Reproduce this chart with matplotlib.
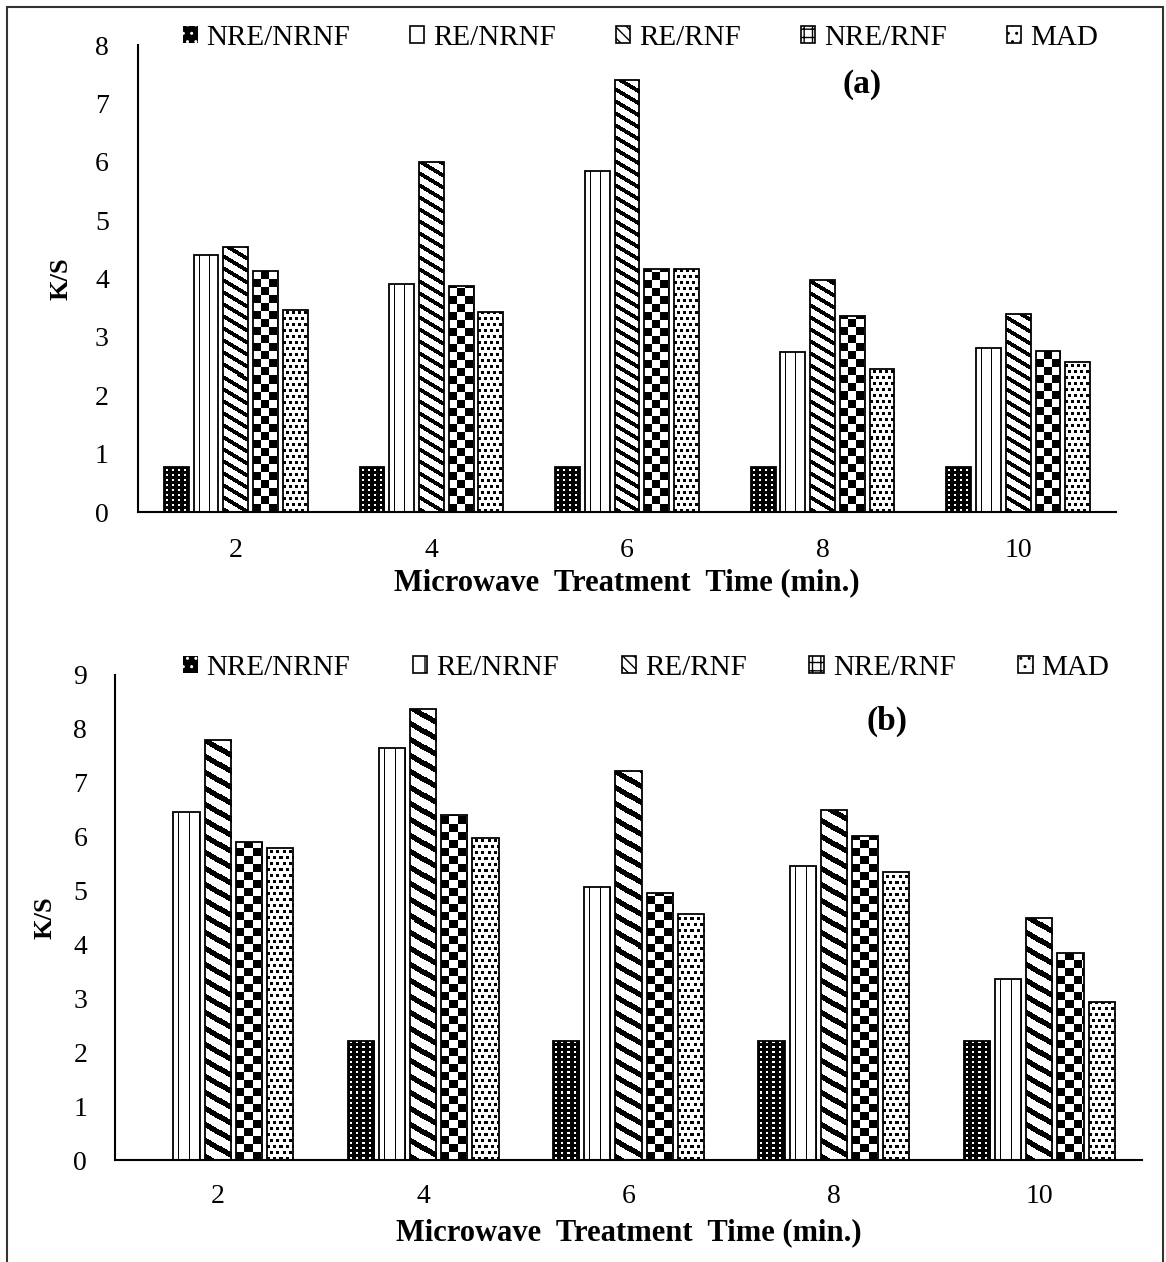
import numpy as np
import matplotlib
matplotlib.use('Agg')
import matplotlib.pyplot as plt
from matplotlib.patches import Patch, Rectangle

# ---------------- data ----------------
times = ['2', '4', '6', '8', '10']
series = ['NRE/NRNF', 'RE/NRNF', 'RE/RNF', 'NRE/RNF', 'MAD']

a_nre_nrnf = [0.77, 0.77, 0.77, 0.77, 0.77]
a_re_nrnf = [4.40, 3.90, 5.84, 2.74, 2.81]
a_re_rnf = [4.54, 5.99, 7.40, 3.97, 3.39]
a_nre_rnf = [4.13, 3.87, 4.16, 3.36, 2.76]
a_mad = [3.46, 3.42, 4.16, 2.45, 2.57]

b_nre_nrnf = [0.0, 2.21, 2.21, 2.21, 2.21]
b_re_nrnf = [6.46, 7.64, 5.06, 5.45, 3.36]
b_re_rnf = [7.79, 8.37, 7.22, 6.49, 4.49]
b_nre_rnf = [5.90, 6.40, 4.95, 6.01, 3.84]
b_mad = [5.79, 5.97, 4.56, 5.34, 2.93]

kinds = ['dots', 'vlines', 'diag', 'checker', 'mad']

plt.rcParams['font.family'] = ['Liberation Serif', 'DejaVu Serif']

W, H = 1166, 1262
fig = plt.figure(figsize=(W / 100, H / 100), dpi=100)


def pattern(kind, xx, yy, period):
    if kind == 'dots':
        white = ((xx % 6) >= 2) & ((xx % 6) <= 3) & ((yy % 5) >= 1) & ((yy % 5) <= 2)
        return white.astype(float)
    if kind == 'vlines':
        black = (xx % 10) == 5
    elif kind == 'diag':
        black = ((yy + 0.6 * xx) % period) < period * 0.38
    elif kind == 'checker':
        black = ((xx // 8) + (yy // 8)) % 2 == 0
    else:
        shift = 3 * ((yy // 6) % 2)
        black = (((xx + shift) % 6) < 3) & ((yy % 6) < 3)
    return (~black).astype(float)


def legend_handles():
    return [
        Patch(facecolor='black', edgecolor='white', hatch='..', lw=0),
        Patch(facecolor='white', edgecolor='black', hatch='|', lw=1.2),
        Patch(facecolor='white', edgecolor='black', hatch='\\\\\\', lw=1.2),
        Patch(facecolor='white', edgecolor='black', hatch='++', lw=1.2),
        Patch(facecolor='white', edgecolor='black', hatch='..', lw=1.2),
    ]


def panel(rect_px, ymax, data, tag, tag_xy, diag_period, ylab_x, xlab_y,
          leg_x, leg_y, colsp, ypad, xpad):
    l, r, t, b = rect_px
    ax = fig.add_axes([l / W, 1 - b / H, (r - l) / W, (b - t) / H])
    x = np.arange(len(times))
    ax.set_xlim(-0.5, len(times) - 0.5)
    ax.set_ylim(0, ymax)
    step = 0.152
    bw = 0.127
    pxx = (r - l) / len(times)
    pxy = (b - t) / ymax
    for i, (vals, kind) in enumerate(zip(data, kinds)):
        offs = (i - 2) * step
        bars = ax.bar(x + offs, vals, width=bw, facecolor='none', edgecolor='black',
                      linewidth=1.3, zorder=3)
        for rect in bars:
            h = rect.get_height()
            if h <= 0:
                continue
            x0 = rect.get_x()
            wpx = int(np.ceil(rect.get_width() * pxx)) + 2
            hpx = int(np.ceil(h * pxy)) + 2
            yy, xx = np.mgrid[0:hpx, 0:wpx]
            img = pattern(kind, xx, yy, diag_period)
            im = ax.imshow(img, extent=(x0, x0 + wpx / pxx, 0, hpx / pxy), origin='lower',
                           cmap='gray', vmin=0, vmax=1, interpolation='nearest',
                           aspect='auto', zorder=2)
            im.set_clip_path(rect)
    ax.set_xlim(-0.5, len(times) - 0.5)
    ax.set_ylim(0, ymax)
    ax.set_xticks(x)
    ax.set_xticklabels(times)
    ax.set_yticks(np.arange(0, ymax + 1))
    ax.tick_params(axis='both', length=0, labelsize=20)
    ax.tick_params(axis='y', pad=ypad)
    ax.tick_params(axis='x', pad=xpad)
    for s in ['top', 'right']:
        ax.spines[s].set_visible(False)
    for s in ['left', 'bottom']:
        ax.spines[s].set_linewidth(1.5)
    ax.set_ylabel('K/S', fontsize=19, fontweight='bold')
    ax.yaxis.set_label_coords((ylab_x - l) / (r - l), 0.5)
    ax.set_xlabel('Microwave  Treatment  Time (min.)', fontsize=22, fontweight='bold')
    ax.xaxis.set_label_coords(0.5, 1 - (xlab_y - t) / (b - t))
    ax.xaxis.label.set_va('center')
    fig.text(tag_xy[0] / W, 1 - tag_xy[1] / H, tag, fontsize=24, fontweight='bold',
             ha='center', va='center')
    fig.legend(legend_handles(), series, loc='center left',
               bbox_to_anchor=(leg_x / W, 1 - leg_y / H), ncol=5, frameon=False,
               fontsize=21, handlelength=0.5, handleheight=0.5, handletextpad=0.3,
               columnspacing=colsp, borderpad=0, borderaxespad=0)
    return ax


panel((138, 1116, 45, 512), 8,
      [a_nre_nrnf, a_re_nrnf, a_re_rnf, a_nre_rnf, a_mad],
      '(a)', (862, 84), 12, 73, 583, 183, 38, 2.05, 21, 19)
panel((115, 1142, 675, 1160), 9,
      [b_nre_nrnf, b_re_nrnf, b_re_rnf, b_nre_rnf, b_mad],
      '(b)', (887, 721), 16, 57, 1233, 183, 668, 2.15, 20, 17)

# outer frame
fig.add_artist(Rectangle((7 / W, -0.05), 1156 / W, 1.05 - 7 / H, transform=fig.transFigure,
                         fill=False, edgecolor='#333333', linewidth=1.5))

fig.savefig('out.png', dpi=100)
